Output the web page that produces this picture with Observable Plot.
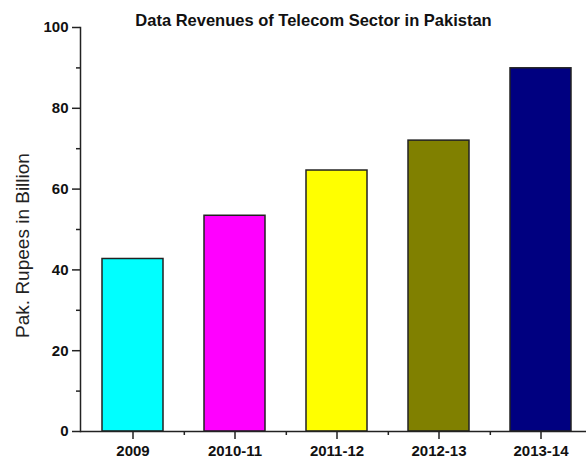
<!DOCTYPE html>
<html>
<head>
<meta charset="utf-8">
<script src="https://cdn.jsdelivr.net/npm/d3@7"></script>
<script src="https://cdn.jsdelivr.net/npm/@observablehq/plot@0.6"></script>
<style>
  html, body { margin: 0; padding: 0; background: #fff; }
  #chart { position: relative; width: 586px; height: 459px; overflow: hidden; }
  svg { font-family: "Liberation Sans", Arial, sans-serif; }
</style>
</head>
<body>
<div id="chart"></div>
<script>
const title = "Data Revenues of Telecom Sector in Pakistan";
const yLabel = "Pak. Rupees in Billion";
const years = ["2009", "2010-11", "2011-12", "2012-13", "2013-14"];
const revenues = [42.7, 53.4, 64.6, 72.0, 89.9];
const colors = ["#00FFFF", "#FF00FF", "#FFFF00", "#808000", "#000080"];
const yMajorTicks = [0, 20, 40, 60, 80, 100];
const yMinorTicks = [10, 30, 50, 70, 90];

const data = years.map((year, i) => ({year, value: revenues[i], color: colors[i]}));

const W = 586, H = 459;
const xRange = [80.4, 593.6];
const step = (xRange[1] - xRange[0]) / years.length;

const plot = Plot.plot({
  width: W,
  height: H,
  marginLeft: 80,
  marginRight: 0,
  marginTop: 27,
  marginBottom: 28,
  style: {fontFamily: "'Liberation Sans', Arial, sans-serif", background: "#fff", overflow: "hidden"},
  x: {domain: years, range: xRange, paddingInner: 0.4, paddingOuter: 0.2, label: null},
  y: {domain: [0, 100], label: null},
  marks: [
    Plot.barY(data, {x: "year", y: "value", fill: "color", stroke: "#222", strokeWidth: 1.5}),
    Plot.frame({anchor: "left", stroke: "#222", strokeWidth: 1.5}),
    Plot.ruleY([0], {stroke: "#222", strokeWidth: 1.5}),
    Plot.axisY({ticks: yMajorTicks, tickSize: 8, tickPadding: 4, fontSize: 15, fontWeight: "bold", fill: "#111", stroke: "#222", strokeWidth: 1.5, label: null}),
    Plot.axisY({ticks: yMinorTicks, tickSize: 4, text: null, stroke: "#222", strokeWidth: 1.5, label: null}),
    Plot.axisX({tickSize: 8, tickPadding: 6, fontSize: 15, fontWeight: "bold", fill: "#111", stroke: "#222", strokeWidth: 1.5, label: null}),
    Plot.axisX({tickSize: 4, text: null, dx: step / 2, stroke: "#222", strokeWidth: 1.5, label: null}),
    Plot.text([title], {frameAnchor: "top-left", dx: 313 - 80, dy: -13, text: d => d, fontSize: 16.5, fontWeight: "bold", fill: "#111", textAnchor: "middle"}),
    Plot.text([yLabel], {frameAnchor: "left", dx: -58, dy: 16, rotate: -90, text: d => d, fontSize: 19, fill: "#222", textAnchor: "middle"})
  ]
});
document.getElementById("chart").appendChild(plot);
</script>
</body>
</html>
